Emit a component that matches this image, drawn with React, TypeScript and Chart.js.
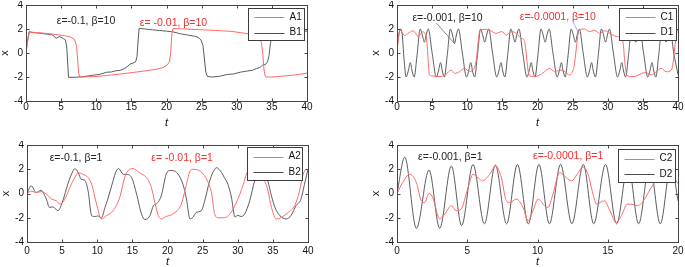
import React, { useEffect, useRef } from 'react';
import { Chart, registerables } from 'chart.js';
Chart.register(...registerables);

type Pt = [number, number];

// ---------- ticks ----------
const Y_TICKS = [-4, -2, 0, 2, 4];
const T_TICKS_40 = [0, 5, 10, 15, 20, 25, 30, 35, 40];
const T_TICKS_20 = [0, 5, 10, 15, 20];

// ---------- panel 1 (beta = 10) ----------
const A1: Pt[] = [
  [0, 0], [0.3, 1.2], [0.5, 1.75], [1, 1.72], [2, 1.68], [3, 1.62], [4, 1.56], [5, 1.48], [5.8, 1.4],
  [6.3, 1.34], [6.9, 1.14], [7.2, 0.6], [7.35, -0.6], [7.5, -1.7], [7.65, -1.98], [8, -2.0], [9.6, -1.97],
  [11.5, -1.88], [13.4, -1.75], [15.3, -1.62], [17.2, -1.47], [18.5, -1.36], [19.5, -1.22], [20.1, -1.0],
  [20.4, -0.75], [20.6, 0.0], [20.75, 1.5], [20.9, 2.03], [22, 2.02], [24.5, 1.95], [27, 1.88], [29.3, 1.8],
  [31.6, 1.6], [32.5, 1.45], [33.1, 1.3], [33.5, 0.9], [33.7, 0], [33.9, -1.5], [34.1, -2.0], [35, -2.0],
  [36, -1.95], [38, -1.85], [40, -1.68],
];
const B1: Pt[] = [
  [0, 0.1], [0.2, 1.0], [0.45, 1.78], [1, 1.7], [2, 1.65], [3, 1.57], [3.8, 1.5], [4.3, 1.22], [4.8, 1.38],
  [5.3, 1.2], [5.6, 1.1], [5.8, 0.5], [5.95, -1.0], [6.05, -2.03], [7, -2.02], [8, -1.98], [9.6, -1.85],
  [10.5, -1.78], [11.5, -1.6], [12.2, -1.58], [12.8, -1.48], [13.4, -1.45], [14, -1.3], [14.5, -1.1],
  [14.8, -0.92], [15.2, -0.85], [15.6, -0.75], [15.8, -0.3], [15.95, 1.0], [16.1, 2.05], [17, 2.0],
  [18, 1.93], [19, 1.88], [20, 1.82], [21, 1.75], [22, 1.6], [22.5, 1.55], [23, 1.5], [23.5, 1.45],
  [24, 1.4], [24.5, 1.3], [24.9, 1.1], [25.2, 0.6], [25.4, -0.5], [25.6, -1.6], [25.8, -1.95], [26.5, -2.0],
  [27.5, -1.95], [28.5, -1.8], [29.5, -1.75], [30.5, -1.6], [31.5, -1.5], [32.2, -1.45], [32.8, -1.3],
  [33.3, -1.2], [33.7, -1.0], [34.1, -0.95], [34.4, -0.7], [34.6, -0.2], [34.8, 0.8], [35.0, 1.7],
  [35.3, 1.95], [36, 1.92], [38, 1.87], [40, 1.82],
];
const C1: Pt[] = [
  [0, 0.2], [0.2, 1.2], [0.4, 1.9], [0.7, 1.75], [1.1, 1.45], [1.5, 1.6], [1.8, 1.72], [2.3, 1.85], [2.7, 1.6],
  [3.0, 1.36], [3.4, 1.6], [3.7, 1.78], [4.0, 1.6], [4.2, 1.3], [4.35, 0.2], [4.5, -1.2], [4.65, -1.85],
  [5.1, -1.92], [6.1, -1.97], [7.0, -1.75], [7.7, -1.42], [8.2, -1.7], [8.9, -1.56], [9.6, -1.28],
  [10.35, -1.56], [10.8, -1.4], [11.1, -1.1], [11.35, -0.3], [11.55, 0.9], [11.8, 1.9], [12.7, 1.97],
  [13.4, 1.83], [14.1, 1.64], [14.9, 1.78], [15.6, 1.5], [16.3, 1.78], [17.0, 1.64], [17.7, 1.22],
  [18.1, 1.08], [18.35, 0.2], [18.55, -1.0], [18.8, -1.83], [19.4, -1.97], [20.1, -1.9], [21.0, -1.56],
  [21.7, -1.28], [22.45, -1.56], [23.2, -1.42], [23.9, -1.56], [24.6, -1.83], [25.0, -1.5], [25.2, -1.14],
  [25.5, 0.25], [25.9, 1.9], [26.7, 2.0], [27.4, 1.78], [28.1, 1.9], [28.85, 1.64], [29.6, 1.86],
  [30.3, 1.64], [31.0, 1.42], [31.7, 1.3], [32.2, 0.8], [32.4, -0.6], [32.7, -1.83], [33.4, -1.97],
  [34.1, -1.92], [34.8, -1.7], [35.5, -1.64], [36.2, -1.83], [36.9, -1.56], [37.6, -1.28], [38.3, -1.56],
  [39.05, -1.42], [39.3, -0.8], [39.5, 0.25], [39.9, 1.9], [40, 1.95],
];
const D1: Pt[] = [
  [0, 0.3], [0.25, 1.5], [0.5, 2.0], [0.75, 1.5], [1.0, -0.5], [1.3, -2.0], [1.6, -1.5], [1.9, -0.8],
  [2.15, -1.5], [2.45, -2.0], [2.85, -0.2], [3.3, 2.0], [3.6, 1.5], [3.9, 0.9], [4.15, 1.5], [4.45, 2.0],
  [5.0, 0.0], [5.6, -2.0], [5.9, -1.5], [6.2, -0.8], [6.45, -1.5], [6.75, -2.0], [7.15, -0.2], [7.6, 2.0],
  [7.9, 1.5], [8.2, 0.8], [8.45, 1.5], [8.75, 2.0], [9.3, 0.0], [9.9, -2.0], [10.2, -1.5], [10.5, -0.8],
  [10.75, -1.5], [11.05, -2.0], [11.45, -0.2], [11.9, 2.0], [12.2, 1.5], [12.5, 0.9], [12.75, 1.5],
  [13.05, 2.0], [13.6, 0.0], [14.2, -2.0], [14.5, -1.5], [14.8, -0.8], [15.05, -1.5], [15.35, -2.0],
  [15.75, -0.2], [16.2, 2.0], [16.5, 1.5], [16.8, 0.9], [17.05, 1.5], [17.35, 2.0], [17.9, 0.0],
  [18.5, -2.0], [18.8, -1.5], [19.1, -0.8], [19.35, -1.5], [19.65, -2.0], [20.05, -0.2], [20.5, 2.0],
  [20.8, 1.5], [21.1, 0.9], [21.35, 1.5], [21.65, 2.0], [22.2, 0.0], [22.8, -2.0], [23.1, -1.5],
  [23.4, -0.8], [23.65, -1.5], [23.95, -2.0], [24.35, -0.2], [24.8, 2.0], [25.1, 1.5], [25.4, 0.9],
  [25.65, 1.5], [25.95, 2.0], [26.5, 0.0], [27.1, -2.0], [27.4, -1.5], [27.7, -0.8], [27.95, -1.5],
  [28.25, -2.0], [28.65, -0.2], [29.1, 2.0], [29.4, 1.5], [29.7, 0.9], [29.95, 1.5], [30.25, 2.0],
  [30.8, 0.0], [31.4, -2.0], [31.7, -1.5], [32.0, -0.8], [32.25, -1.5], [32.55, -2.0], [32.95, -0.2],
  [33.4, 2.0], [33.7, 1.5], [34.0, 0.9], [34.25, 1.5], [34.55, 2.0], [35.1, 0.0], [35.7, -2.0],
  [36.0, -1.5], [36.3, -0.8], [36.55, -1.5], [36.85, -2.0], [37.25, -0.2], [37.7, 2.0], [38.0, 1.5],
  [38.3, 0.9], [38.55, 1.5], [38.85, 2.0], [39.4, 0.0], [40, -1.8],
];

// ---------- panel 2 (beta = 1) ----------
const A2: Pt[] = [
  [0, 0], [0.6, 0.2], [1.3, 0.08], [2.0, 0.15], [2.75, -0.05], [3.5, -0.46], [4.2, -0.6], [4.7, -0.87],
  [5.4, -0.46], [6.1, 0.5], [6.8, 1.31], [7.3, 1.72], [7.98, 1.58], [8.7, 1.31], [9.2, 0.77], [9.9, -0.87],
  [10.6, -2.1], [11.3, -1.83], [12.25, -1.42], [13.2, -0.33], [13.9, 1.31], [14.6, 2.0], [15.1, 2.05],
  [16.0, 1.72], [17.0, 1.31], [17.7, 0.5], [18.2, -0.74], [18.7, -1.83], [19.1, -2.1], [19.8, -1.9],
  [20.8, -1.67], [21.97, -0.87], [22.7, 0.77], [23.2, 1.86], [23.6, 2.0], [24.3, 1.95], [25.1, 1.6],
  [25.8, 0.9], [26.3, -0.05], [26.7, -1.67], [27.2, -2.0], [28.1, -2.0], [28.9, -1.67], [29.6, -1.0],
  [30.3, -0.05], [30.8, 0.77], [31.3, 1.7], [31.9, 2.05], [32.6, 2.05], [33.3, 1.6], [33.8, 1.1],
  [34.3, 0.22], [34.8, -1.15], [35.5, -2.1], [36.2, -1.97], [37.2, -1.56], [38.1, -1.0], [38.8, 0.22],
  [39.3, 1.58], [39.8, 2.0], [40, 1.95],
];
const B2: Pt[] = [
  [0, 0], [0.6, 0.63], [1.3, 0.08], [2.0, 0.27], [2.75, -0.46], [3.2, -1.15], [3.7, -1.1], [4.4, -1.42],
  [5.1, -0.6], [5.8, 0.76], [6.55, 1.86], [6.8, 2.05], [7.3, 1.72], [7.7, 1.17], [8.2, 1.1], [8.7, 0.22],
  [9.2, -1.83], [9.7, -1.9], [10.1, -1.85], [10.6, -2.0], [11.1, -1.15], [11.5, -0.46], [12.25, 1.04],
  [12.7, 1.86], [13.05, 2.05], [13.7, 1.58], [14.1, 1.58], [14.9, 1.3], [15.6, -0.05], [16.3, -1.7],
  [16.8, -2.15], [17.5, -1.83], [18.0, -1.0], [18.4, -0.87], [19.1, -0.2], [19.8, 1.58], [20.1, 1.86],
  [20.5, 1.9], [21.0, 1.85], [21.5, 1.6], [22.2, 0.76], [22.7, -0.46], [23.2, -2.1], [23.6, -1.97],
  [24.1, -1.56], [24.8, -1.42], [25.3, -0.6], [26.0, 1.04], [26.7, 1.99], [26.96, 2.13], [27.7, 1.72],
  [28.1, 1.31], [28.6, 0.76], [29.1, -0.3], [29.6, -1.94], [30.0, -1.8], [30.5, -1.9], [31.0, -1.67],
  [31.7, -0.6], [32.4, 1.04], [32.9, 1.72], [33.4, 2.0], [33.9, 1.7], [34.3, 1.0], [34.8, -0.2],
  [35.3, -1.15], [36.0, -1.83], [36.9, -2.1], [37.6, -1.8], [38.3, -1.0], [39.0, -0.46], [39.5, 0.76],
  [40, 1.99],
];
const C2: Pt[] = [
  [0, 0], [0.4, 0.9], [0.9, 1.58], [1.38, 0.9], [1.73, -0.6], [1.97, -0.74], [2.28, 0.0], [2.56, -0.38],
  [3.04, -2.1], [3.4, -1.7], [3.87, -1.0], [4.2, -1.42], [4.55, -1.3], [5.06, 0.5], [5.41, 1.58],
  [5.77, 1.3], [6.1, 1.04], [6.6, 1.58], [7.03, 2.27], [7.43, 1.3], [7.78, -0.6], [8.02, -0.74],
  [8.5, -0.46], [8.97, -1.15], [9.33, -2.24], [9.68, -1.42], [10.04, -0.46], [10.5, -1.0], [10.75, -1.15],
  [11.1, -0.05], [11.58, 1.72], [12.05, 1.31], [12.41, 1.04], [12.9, 1.72], [13.24, 2.19], [13.6, 1.58],
  [13.95, -0.05], [14.2, -0.87], [14.78, -0.6], [15.1, -1.28], [15.6, -2.38], [15.97, -1.83],
  [16.4, -0.87], [16.8, -0.9], [17.15, -1.0], [17.6, -0.5], [18.0, 0.3], [18.5, 1.2], [19.0, 1.7],
  [19.4, 1.75], [20, 0.8],
];
const D2: Pt[] = [
  [0, 0], [0.55, 3.0], [1.38, -2.87], [2.28, 1.94], [3.04, -2.87], [3.87, 2.27], [4.6, -2.65], [5.41, 2.4],
  [6.22, -2.5], [7.0, 2.35], [7.8, -2.5], [8.57, 2.4], [9.35, -2.5], [10.1, 2.4], [10.85, -2.5],
  [11.64, 2.4], [12.45, -2.5], [13.26, 2.4], [14.0, -2.5], [14.84, 2.4], [15.63, -2.5], [16.45, 2.4],
  [17.2, -2.5], [17.98, 2.4], [18.74, -2.5], [19.5, 2.4], [20, -0.6],
];

// ---------- texts ----------
const LEGEND_1 = ['A1', 'B1'];
const LEGEND_2 = ['C1', 'D1'];
const LEGEND_3 = ['A2', 'B2'];
const LEGEND_4 = ['C2', 'D2'];
const NOTES_1 = ['ε=-0.1, β=10', 'ε= -0.01, β=10'];
const NOTES_2 = ['ε=-0.001, β=10', 'ε=-0.0001, β=10'];
const NOTES_3 = ['ε=-0.1, β=1', 'ε= -0.01, β=1'];
const NOTES_4 = ['ε=-0.001, β=1', 'ε=-0.0001, β=1'];

const RED_LINE = 'rgb(255,105,105)';
const DARK_LINE = 'rgb(75,75,75)';
const RED_TEXT = 'rgb(245,45,45)';
const DARK_TEXT = 'rgb(35,35,35)';
const FONT = '"Liberation Sans", Arial, sans-serif';

interface Note { text: string; t: number; x: number; color: string }
interface Leader { from: Pt; to: Pt; color: string }
interface PanelCfg {
  left: number; top: number; plotH: number; axisH: number; tickPad: number; titlePad: number;
  tMax: number; tTicks: number[];
  red: Pt[]; dark: Pt[]; smooth: boolean; legend: string[];
  legendBox: { dx: number; dy: number; w: number; h: number };
  notes: Note[]; leaders: Leader[];
}

const AXIS_W = 26;
const PLOT_W = 281;
const PAD_R = 8;
const PAD_T = 4;
const CANVAS_W = AXIS_W + PLOT_W + PAD_R;

const PANELS: PanelCfg[] = [
  {
    left: 0, top: 1, plotH: 96, axisH: 31, tickPad: 0, titlePad: 2.7, tMax: 40, tTicks: T_TICKS_40,
    red: A1, dark: B1, smooth: false, legend: LEGEND_1, legendBox: { dx: 3, dy: 3, w: 56, h: 32 },
    notes: [
      { text: NOTES_1[0], t: 4.37, x: 2.67, color: DARK_TEXT },
      { text: NOTES_1[1], t: 16.2, x: 2.5, color: RED_TEXT },
    ],
    leaders: [],
  },
  {
    left: 371, top: 1, plotH: 96, axisH: 31, tickPad: 0, titlePad: 2.7, tMax: 40, tTicks: T_TICKS_40,
    red: C1, dark: D1, smooth: true, legend: LEGEND_2, legendBox: { dx: 2, dy: 3, w: 57, h: 32 },
    notes: [
      { text: NOTES_2[0], t: 2.19, x: 2.93, color: DARK_TEXT },
      { text: NOTES_2[1], t: 17.47, x: 2.97, color: RED_TEXT },
    ],
    leaders: [
      { from: [5.6, 2.5], to: [8.2, 0.78], color: 'rgb(90,90,90)' },
      { from: [25.05, 2.6], to: [25.9, 1.6], color: 'rgb(120,140,255)' },
    ],
  },
  {
    left: 1, top: 141, plotH: 97, axisH: 28, tickPad: 3, titlePad: 1, tMax: 40, tTicks: T_TICKS_40,
    red: A2, dark: B2, smooth: true, legend: LEGEND_3, legendBox: { dx: 6, dy: 1.5, w: 55, h: 33 },
    notes: [
      { text: NOTES_3[0], t: 3.23, x: 2.95, color: DARK_TEXT },
      { text: NOTES_3[1], t: 17.7, x: 2.95, color: RED_TEXT },
    ],
    leaders: [],
  },
  {
    left: 371, top: 141, plotH: 97, axisH: 28, tickPad: 3, titlePad: 1, tMax: 20, tTicks: T_TICKS_20,
    red: C2, dark: D2, smooth: true, legend: LEGEND_4, legendBox: { dx: 3, dy: 4, w: 57, h: 33 },
    notes: [
      { text: NOTES_4[0], t: 1.5, x: 3.0, color: DARK_TEXT },
      { text: NOTES_4[1], t: 9.68, x: 3.09, color: RED_TEXT },
    ],
    leaders: [],
  },
];

const panelPlugin = {
  id: 'panelDeco',
  afterDatasetsDraw(chart: any, _args: any, opts: any) {
    const cfg: PanelCfg = opts.cfg;
    const { ctx, chartArea: a } = chart;
    const xs = chart.scales.x;
    const ys = chart.scales.y;
    ctx.save();
    // leader lines
    for (const l of cfg.leaders) {
      ctx.strokeStyle = l.color;
      ctx.lineWidth = 0.7;
      ctx.beginPath();
      ctx.moveTo(xs.getPixelForValue(l.from[0]), ys.getPixelForValue(l.from[1]));
      ctx.lineTo(xs.getPixelForValue(l.to[0]), ys.getPixelForValue(l.to[1]));
      ctx.stroke();
    }
    // frame
    const L = Math.round(a.left) + 0.5, R = Math.round(a.right) + 0.5;
    const T = Math.round(a.top) + 0.5, B = Math.round(a.bottom) + 0.5;
    ctx.strokeStyle = 'rgb(70,70,70)';
    ctx.lineWidth = 1;
    ctx.strokeRect(L, T, R - L, B - T);
    ctx.beginPath();
    for (const v of cfg.tTicks) {
      const px = Math.round(xs.getPixelForValue(v)) + 0.5;
      ctx.moveTo(px, B); ctx.lineTo(px, B - 3);
      ctx.moveTo(px, T); ctx.lineTo(px, T + 3);
    }
    for (const v of Y_TICKS) {
      const py = Math.round(ys.getPixelForValue(v)) + 0.5;
      ctx.moveTo(L, py); ctx.lineTo(L + 3, py);
      ctx.moveTo(R, py); ctx.lineTo(R - 3, py);
    }
    ctx.stroke();
    // legend
    const lb = cfg.legendBox;
    const bx = Math.round(a.right - lb.dx - lb.w) + 0.5;
    const by = Math.round(a.top + lb.dy) + 0.5;
    ctx.fillStyle = '#fff';
    ctx.fillRect(bx, by, lb.w, lb.h);
    ctx.strokeStyle = 'rgb(60,60,60)';
    ctx.strokeRect(bx, by, lb.w, lb.h);
    const rows = [by + lb.h * 0.28, by + lb.h * 0.75];
    const colors = [RED_LINE, DARK_LINE];
    ctx.font = `10px ${FONT}`;
    ctx.textBaseline = 'middle';
    ctx.textAlign = 'left';
    for (let i = 0; i < 2; i++) {
      ctx.strokeStyle = colors[i];
      ctx.beginPath();
      ctx.moveTo(bx + 6, Math.round(rows[i]) + 0.5);
      ctx.lineTo(bx + 36, Math.round(rows[i]) + 0.5);
      ctx.stroke();
      ctx.fillStyle = '#111';
      ctx.fillText(cfg.legend[i], bx + 41, rows[i]);
    }
    // notes
    ctx.font = `10.5px ${FONT}`;
    for (const n of cfg.notes) {
      ctx.fillStyle = n.color;
      ctx.fillText(n.text, xs.getPixelForValue(n.t), ys.getPixelForValue(n.x));
    }
    ctx.restore();
  },
};

function Panel({ cfg }: { cfg: PanelCfg }) {
  const ref = useRef<HTMLCanvasElement | null>(null);
  const H = PAD_T + cfg.plotH + cfg.axisH;
  useEffect(() => {
    if (!ref.current) return;
    const mk = (pts: Pt[]) => pts.map(([x, y]) => ({ x, y }));
    const ds = (data: Pt[], color: string, label: string, w: number) => ({
      label,
      data: mk(data),
      borderColor: color,
      borderWidth: w,
      pointRadius: 0,
      fill: false,
      tension: 0,
      cubicInterpolationMode: cfg.smooth ? 'monotone' : 'default',
    });
    const chart = new Chart(ref.current, {
      type: 'line',
      data: {
        datasets: [
          ds(cfg.red, RED_LINE, cfg.legend[0], 1),
          ds(cfg.dark, DARK_LINE, cfg.legend[1], 0.9),
        ] as any,
      },
      options: {
        responsive: false,
        maintainAspectRatio: false,
        animation: false,
        events: [],
        layout: { padding: { left: 0, right: PAD_R, top: PAD_T, bottom: 0 } },
        plugins: {
          legend: { display: false },
          tooltip: { enabled: false },
          panelDeco: { cfg },
        } as any,
        scales: {
          x: {
            type: 'linear',
            min: 0,
            max: cfg.tMax,
            grid: { display: false, drawTicks: false },
            border: { display: false },
            afterBuildTicks: (s: any) => { s.ticks = cfg.tTicks.map((v) => ({ value: v })); },
            afterFit: (s: any) => { s.height = cfg.axisH; s.paddingLeft = 0; s.paddingRight = 0; },
            ticks: {
              autoSkip: false, maxRotation: 0, padding: cfg.tickPad, color: '#111',
              font: { family: FONT, size: 10 },
            },
            title: {
              display: true, text: 't', color: '#111',
              font: { family: FONT, size: 11, style: 'italic' },
              padding: { top: 0, bottom: cfg.titlePad },
            },
          },
          y: {
            type: 'linear',
            min: -4,
            max: 4,
            grid: { display: false, drawTicks: false },
            border: { display: false },
            afterBuildTicks: (s: any) => { s.ticks = Y_TICKS.map((v) => ({ value: v })); },
            afterFit: (s: any) => { s.width = AXIS_W; s.paddingTop = 0; s.paddingBottom = 0; },
            ticks: { padding: 3, color: '#111', font: { family: FONT, size: 10 } },
            title: {
              display: true, text: 'x', color: '#111',
              font: { family: FONT, size: 11 },
              padding: { top: -2, bottom: 0 },
            },
          },
        } as any,
      },
      plugins: [panelPlugin],
    });
    return () => chart.destroy();
  }, [cfg]);
  return (
    <canvas
      ref={ref}
      width={CANVAS_W}
      height={H}
      style={{ position: 'absolute', left: cfg.left, top: cfg.top, width: CANVAS_W, height: H }}
    />
  );
}

export default function App() {
  return (
    <div style={{ position: 'fixed', left: 0, top: 0, width: 685, height: 267, background: '#fff', overflow: 'hidden' }}>
      {PANELS.map((p, i) => <Panel key={i} cfg={p} />)}
    </div>
  );
}
